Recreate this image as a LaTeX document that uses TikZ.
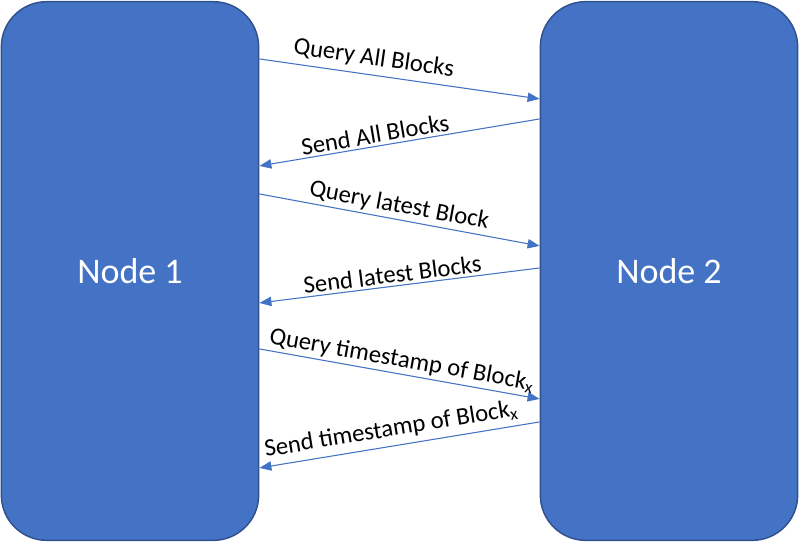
\documentclass[tikz,border=0pt]{standalone}
\usepackage{fontspec}
\setmainfont{Carlito}
\usetikzlibrary{positioning,arrows.meta,calc}
\definecolor{boxfill}{HTML}{4472C4}
\definecolor{boxline}{HTML}{2F528F}
\definecolor{msgline}{HTML}{4472C4}
\tikzset{
  peer/.style={draw=boxline, line width=1.1pt, fill=boxfill, rounded corners=34pt,
    minimum width=193pt, minimum height=404pt, text=white, font=\fontsize{27}{32}\selectfont},
  msg/.style={draw=msgline, line width=0.8pt, -{Triangle[length=9pt,width=7pt]}},
  msgtext/.style={font=\fontsize{18.5}{22}\selectfont, sloped, above, inner sep=2pt}
}
\begin{document}
\begin{tikzpicture}[x=0.75pt,y=-0.75pt]
\useasboundingbox (0,0) rectangle (799,543);
\node[peer] (n1) at (130,271) {Node 1};
\node[peer] (n2) at (669,271) {Node 2};
% query messages, n1 -> n2
\draw[msg] ($(n1.north east)+(0,58)$) -- node[msgtext, pos=0.4, yshift=2pt] {Query All Blocks} ($(n2.north west)+(0,98)$);
\draw[msg] ($(n1.north east)+(0,193)$) -- node[msgtext, pos=0.49] {Query latest Block} ($(n2.north west)+(0,245)$);
\draw[msg] ($(n1.north east)+(0,348)$) -- node[msgtext, pos=0.5] {Query timestamp of Block\textsubscript{x}} ($(n2.north west)+(0,398)$);
% send messages, n2 -> n1
\draw[msg] ($(n2.north west)+(0,118)$) -- node[msgtext, pos=0.58] {Send All Blocks} ($(n1.north east)+(0,165)$);
\draw[msg] ($(n2.north west)+(0,267)$) -- node[msgtext, pos=0.52] {Send latest Blocks} ($(n1.north east)+(0,302)$);
\draw[msg] ($(n2.north west)+(0,421)$) -- node[msgtext, pos=0.52, yshift=2pt] {Send timestamp of Block\textsubscript{x}} ($(n1.north east)+(0,467)$);
\end{tikzpicture}
\end{document}
